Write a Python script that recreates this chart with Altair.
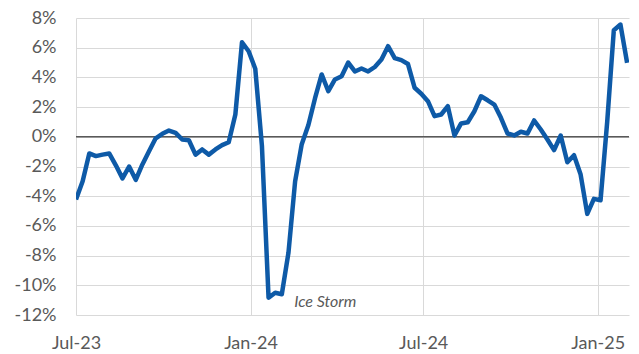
import altair as alt
import pandas as pd

start = "2023-07-01"
values = [
    -4.22, -3.0, -1.12, -1.3, -1.2, -1.12, -1.92, -2.8, -2.0, -2.9,
    -1.86, -0.97, -0.1, 0.2, 0.42, 0.27, -0.18, -0.23, -1.2, -0.85,
    -1.2, -0.85, -0.56, -0.37, 1.5, 6.37, 5.76, 4.58, -0.6, -10.84,
    -10.5, -10.6, -7.8, -3.0, -0.5, 0.8, 2.6, 4.2, 3.07, 3.86,
    4.08, 5.0, 4.4, 4.6, 4.4, 4.7, 5.2, 6.1, 5.3, 5.16,
    4.9, 3.3, 2.9, 2.4, 1.39, 1.5, 2.06, 0.09, 0.9, 0.98,
    1.72, 2.73, 2.46, 2.17, 1.28, 0.22, 0.09, 0.34, 0.22, 1.1,
    0.49, -0.18, -0.9, 0.09, -1.71, -1.24, -2.54, -5.19, -4.18, -4.27,
    1.0, 7.18, 7.56, 4.98,
]
dates = pd.date_range(start, periods=len(values), freq="7D").strftime("%Y-%m-%d").tolist()
y_ticks = [-12, -10, -8, -6, -4, -2, 0, 2, 4, 6, 8]
x_ticks = [(2023, 7), (2024, 1), (2024, 7), (2025, 1)]
note_text = ["Ice Storm"]
note_date = ["2024-02-16"]
note_value = [-11.1]

df = pd.DataFrame({"date": dates, "value": [v / 100 for v in values]})
notes = pd.DataFrame({"date": note_date, "value": [v / 100 for v in note_value], "text": note_text})
zero = pd.DataFrame({"value": [0.0]})

FONT = "Lato"
GRAY = "#595959"

x_scale = alt.Scale(
    type="utc",
    domain=[alt.DateTime(year=2023, month=7, date=1, utc=True),
            alt.DateTime(year=2025, month=2, date=3, utc=True)],
    nice=False,
)
y_scale = alt.Scale(domain=[-0.12, 0.08], nice=False, zero=False)

x_axis = alt.Axis(
    values=[alt.DateTime(year=y, month=m, date=1, utc=True) for y, m in x_ticks],
    labelExpr="utcFormat(datum.value, '%b-%y')",
    title=None, grid=True, gridColor="#d9d9d9", gridWidth=1,
    domain=False, ticks=False, labelPadding=19, labelFont=FONT,
    labelFontSize=18, labelColor=GRAY, labelFlush=False, labelOverlap=False,
    tickCount=20,
)
y_axis = alt.Axis(
    values=[t / 100 for t in y_ticks],
    tickCount=30,
    labelExpr="replace(format(datum.value, '.0%'), '\u2212', '-')",
    title=None,
    grid=True, gridColor="#d9d9d9", gridWidth=1, domain=False, ticks=False,
    labelPadding=20, labelFont=FONT, labelFontSize=18, labelColor=GRAY,
    labelOverlap=False, labelFlush=False,
)

base_line = alt.Chart(df).mark_line(color="#0E5AA7", strokeWidth=4.5, strokeJoin="round", clip=True).encode(
    x=alt.X("date:T", scale=x_scale, axis=x_axis),
    y=alt.Y("value:Q", scale=y_scale, axis=y_axis),
)

zero_rule = alt.Chart(zero).mark_rule(color=GRAY, strokeWidth=1.5).encode(
    y=alt.Y("value:Q", scale=y_scale, axis=y_axis),
)

note = alt.Chart(notes).mark_text(
    align="left", baseline="middle", font=FONT, fontSize=16, fontStyle="italic", color=GRAY
).encode(
    x=alt.X("date:T", scale=x_scale, axis=x_axis),
    y=alt.Y("value:Q", scale=y_scale, axis=y_axis),
    text="text:N",
)

chart = alt.layer(zero_rule, base_line, note).properties(
    width=553, height=297,
    autosize=alt.AutoSizeParams(type="none"),
    padding={"left": 76, "top": 18, "right": 10, "bottom": 39},
).configure_view(stroke=None)

chart.save("out.html", embed_options={"renderer": "svg", "actions": False})
